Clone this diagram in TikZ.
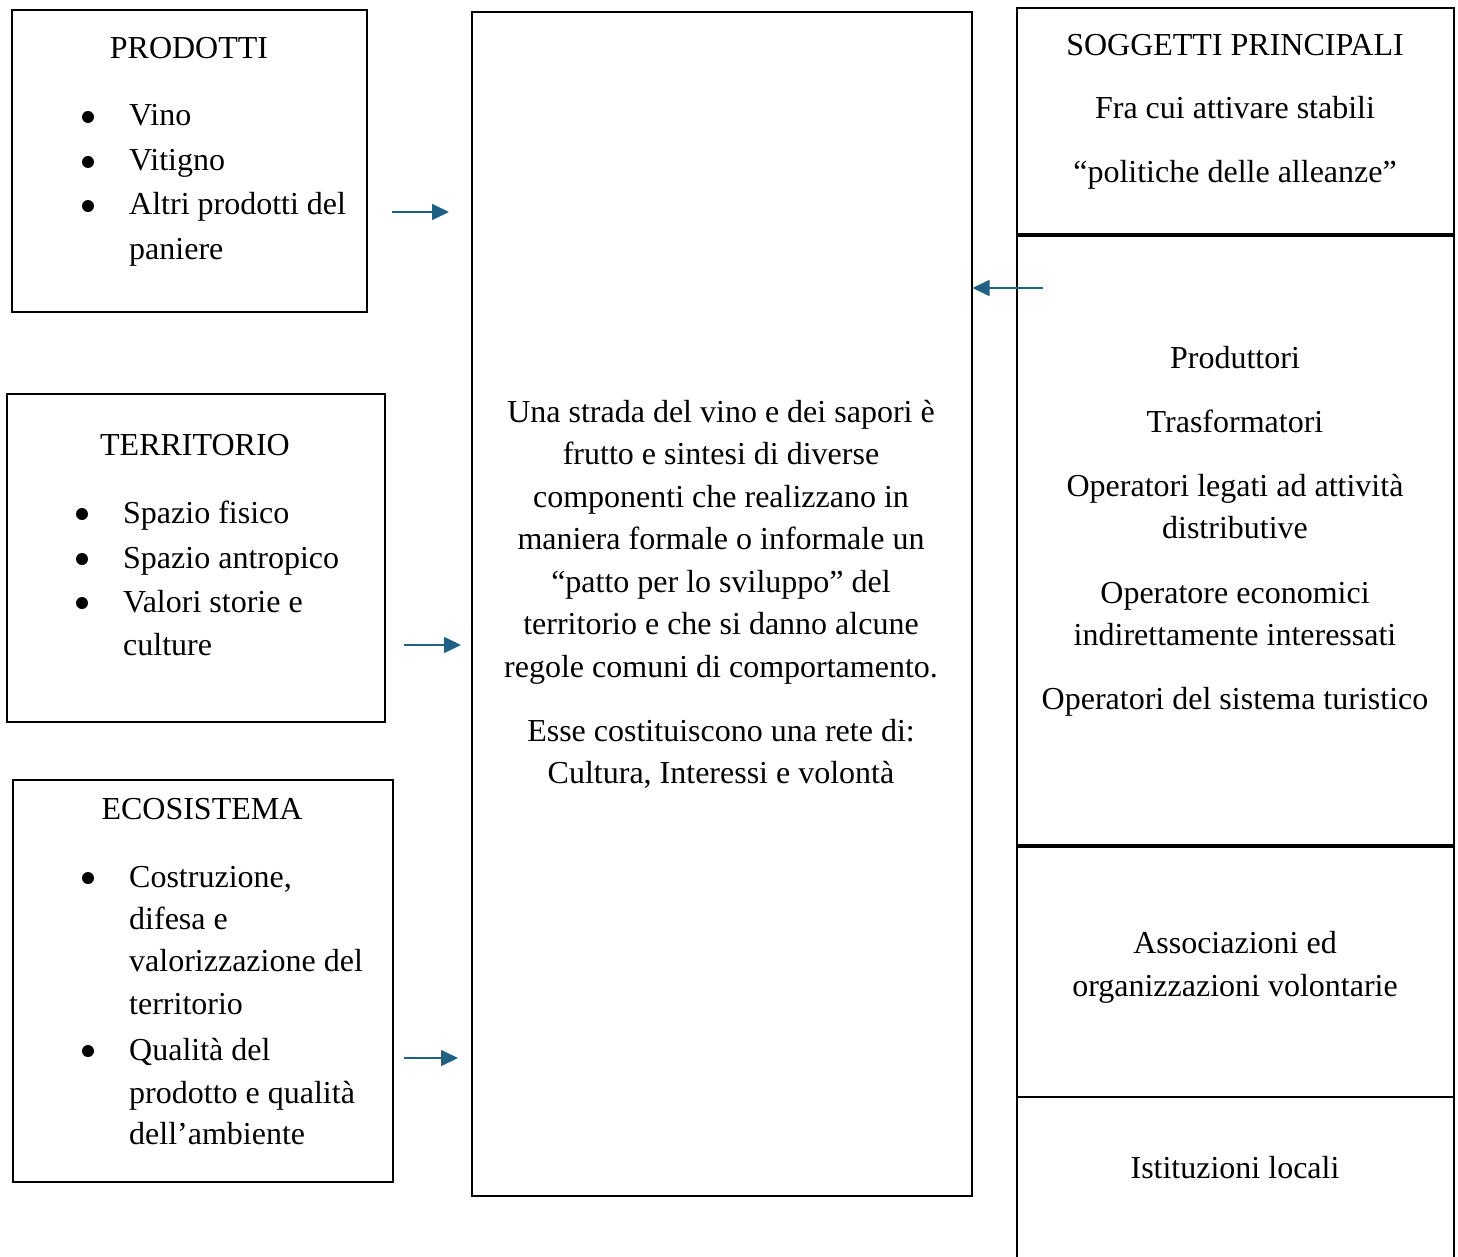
\documentclass[tikz,border=0pt]{standalone}
\usepackage{fontspec}
\setmainfont{Liberation Serif}
\usetikzlibrary{arrows.meta}
\definecolor{arrowblue}{RGB}{31,96,133}
\begin{document}
\begin{tikzpicture}[x=1pt,y=-1pt,
  box/.style={draw,line width=2pt,inner sep=0,anchor=north west},
  txt/.style={inner sep=0,anchor=base,font=\fontsize{32}{42.5}\selectfont},
  ltxt/.style={txt,anchor=base west},
  dot/.style={circle,fill,inner sep=0,minimum size=12pt},
  link/.style={draw=arrowblue,line width=1.6pt,-{Triangle[length=17pt,width=16pt]}}]
\useasboundingbox (0,0) rectangle (1458,1257);

% left boxes
\node[box,minimum width=355pt,minimum height=301pt] (prod) at (10.5,9.5) {};
\node[box,minimum width=378pt,minimum height=328pt] (terr) at (5.5,392.5) {};
\node[box,minimum width=380pt,minimum height=402pt] (eco) at (11.5,778.5) {};
% centre box
\node[box,minimum width=500pt,minimum height=1183pt] (centre) at (470.5,11.5) {};
% right column
\node[box,minimum width=437pt,minimum height=226pt] (sogg) at (1015.5,7.5) {};
\node[box,minimum width=437pt,minimum height=610pt] (oper) at (1015.5,233.5) {};
\node[box,minimum width=437pt,minimum height=252pt] (assoc) at (1015.5,843.5) {};
\node[box,minimum width=437pt,minimum height=175pt] (ist) at (1015.5,1095.5) {};
\draw[line width=4pt] (sogg.south west) -- (sogg.south east);
\draw[line width=4pt] (oper.south west) -- (oper.south east);

% PRODOTTI
\node[txt] (prodT) at (189,59) {PRODOTTI};
\node[dot] (pd1) at (88,117) {};
\node[dot] (pd2) at (88,162) {};
\node[dot] (pd3) at (88,206) {};
\node[ltxt] (pt1) at (129,126) {Vino};
\node[ltxt] (pt2) at (129,171) {Vitigno};
\node[ltxt] (pt3) at (129,215) {Altri prodotti del};
\node[ltxt] (pt4) at (129,259) {paniere};

% TERRITORIO
\node[txt] (terrT) at (195,455) {TERRITORIO};
\node[dot] (td1) at (82,514) {};
\node[dot] (td2) at (82,559) {};
\node[dot] (td3) at (82,603) {};
\node[ltxt] (tt1) at (123,523) {Spazio fisico};
\node[ltxt] (tt2) at (123,568) {Spazio antropico};
\node[ltxt] (tt3) at (123,612) {Valori storie e};
\node[ltxt] (tt4) at (123,655) {culture};

% ECOSISTEMA
\node[txt] (ecoT) at (202,819) {ECOSISTEMA};
\node[dot] (ed1) at (88,878) {};
\node[dot] (ed2) at (88,1051) {};
\node[ltxt] (et1) at (129,887) {Costruzione,};
\node[ltxt] (et2) at (129,929) {difesa e};
\node[ltxt] (et3) at (129,971) {valorizzazione del};
\node[ltxt] (et4) at (129,1014) {territorio};
\node[ltxt] (et5) at (129,1060) {Qualità del};
\node[ltxt] (et6) at (129,1103) {prodotto e qualità};
\node[ltxt] (et7) at (129,1144) {dell’ambiente};

% centre text
\node[txt] (c1) at (721,422) {Una strada del vino e dei sapori è};
\node[txt] (c2) at (721,464) {frutto e sintesi di diverse};
\node[txt] (c3) at (721,507) {componenti che realizzano in};
\node[txt] (c4) at (721,549) {maniera formale o informale un};
\node[txt] (c5) at (721,592) {“patto per lo sviluppo” del};
\node[txt] (c6) at (721,634) {territorio e che si danno alcune};
\node[txt] (c7) at (721,677) {regole comuni di comportamento.};
\node[txt] (c8) at (721,741) {Esse costituiscono una rete di:};
\node[txt] (c9) at (721,783) {Cultura, Interessi e volontà};

% right texts
\node[txt] (r1) at (1235,56) {SOGGETTI PRINCIPALI};
\node[txt] (r2) at (1235,119) {Fra cui attivare stabili};
\node[txt] (r3) at (1235,183) {“politiche delle alleanze”};
\node[txt] (r4) at (1235,368) {Produttori};
\node[txt] (r5) at (1235,432) {Trasformatori};
\node[txt] (r6) at (1235,496) {Operatori legati ad attività};
\node[txt] (r7) at (1235,538) {distributive};
\node[txt] (r8) at (1235,603) {Operatore economici};
\node[txt] (r9) at (1235,645) {indirettamente interessati};
\node[txt] (r10) at (1235,709) {Operatori del sistema turistico};
\node[txt] (r11) at (1235,953) {Associazioni ed};
\node[txt] (r12) at (1235,996) {organizzazioni volontarie};
\node[txt] (r13) at (1235,1178) {Istituzioni locali};

% arrows
\coordinate (a1s) at (392,212);
\coordinate (a1e) at (449,212);
\coordinate (a2s) at (404,645);
\coordinate (a2e) at (461,645);
\coordinate (a3s) at (404,1058);
\coordinate (a3e) at (458,1058);
\coordinate (a4s) at (1043,288);
\draw[link] (a1s) -- (a1e);
\draw[link] (a2s) -- (a2e);
\draw[link] (a3s) -- (a3e);
\draw[link] (a4s) -- (centre.east |- a4s);
\end{tikzpicture}
\end{document}
